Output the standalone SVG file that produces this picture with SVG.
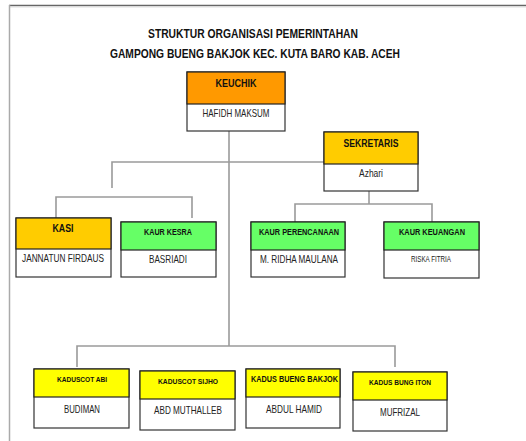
<svg xmlns="http://www.w3.org/2000/svg" width="526" height="441" viewBox="0 0 526 441">
<style>
.t{font-family:"Liberation Sans Narrow","Liberation Sans",Arial,sans-serif;font-weight:bold;text-anchor:middle;fill:#111}
.n{font-family:"Liberation Sans Narrow","Liberation Sans",Arial,sans-serif;text-anchor:middle;fill:#222}
.box{fill:#fff;stroke:#333;stroke-width:1.2}
.hd{stroke:#222;stroke-width:1.2}
.c{fill:none;stroke:#9a9a9a;stroke-width:1.6}
</style>
<rect width="526" height="441" fill="#fff"/>
<g id="frame">
<line x1="9" y1="5.5" x2="526" y2="5.5" stroke="#666" stroke-width="1.5"/>
<line x1="9" y1="7" x2="526" y2="7" stroke="#ddd" stroke-width="1"/>
<line x1="9.5" y1="5" x2="9.5" y2="441" stroke="#aaa" stroke-width="1.5"/>
</g>
<g id="title">
<text class="t" x="253" y="38" font-size="13" textLength="210" lengthAdjust="spacingAndGlyphs">STRUKTUR ORGANISASI PEMERINTAHAN</text>
<text class="t" x="255" y="58" font-size="13" textLength="290" lengthAdjust="spacingAndGlyphs">GAMPONG BUENG BAKJOK KEC. KUTA BARO KAB. ACEH</text>
</g>
<g id="connectors">
<polyline class="c" points="229,131 229,346"/>
<polyline class="c" points="77,367 77,346 395,346 395,367"/>
<polyline class="c" points="112,188 112,162 324,162"/>
<polyline class="c" points="56,218 56,197 192,197 192,218"/>
<polyline class="c" points="369,191 369,204"/>
<polyline class="c" points="295,222 295,204 432,204 432,225"/>
</g>
<g id="keuchik">
<rect class="box" x="187" y="72" width="98" height="59"/>
<rect class="hd" x="187" y="72" width="98" height="32" fill="#FF9900"/>
<text class="t" x="236" y="86.5" font-size="11" textLength="41" lengthAdjust="spacingAndGlyphs">KEUCHIK</text>
<text class="n" x="236" y="116.5" font-size="11" textLength="67" lengthAdjust="spacingAndGlyphs">HAFIDH MAKSUM</text>
</g>
<g id="sekretaris">
<rect class="box" x="324" y="132" width="94" height="59"/>
<rect class="hd" x="324" y="132" width="94" height="32" fill="#FFCC00"/>
<text class="t" x="371" y="146.5" font-size="11" textLength="55" lengthAdjust="spacingAndGlyphs">SEKRETARIS</text>
<text class="n" x="371" y="176.5" font-size="11" textLength="24" lengthAdjust="spacingAndGlyphs">Azhari</text>
</g>
<g id="kasi">
<rect class="box" x="16" y="218" width="95" height="59"/>
<rect class="hd" x="16" y="218" width="95" height="31" fill="#FFCC00"/>
<text class="t" x="63" y="231.5" font-size="11" textLength="21" lengthAdjust="spacingAndGlyphs">KASI</text>
<text class="n" x="63" y="261.5" font-size="11" textLength="82" lengthAdjust="spacingAndGlyphs">JANNATUN FIRDAUS</text>
</g>
<g id="kaur-kesra">
<rect class="box" x="121" y="222" width="95" height="55"/>
<rect class="hd" x="121" y="222" width="95" height="28" fill="#66FF66"/>
<text class="t" x="168" y="234.5" font-size="9" textLength="48" lengthAdjust="spacingAndGlyphs">KAUR KESRA</text>
<text class="n" x="168" y="262.5" font-size="11" textLength="38" lengthAdjust="spacingAndGlyphs">BASRIADI</text>
</g>
<g id="kaur-perencanaan">
<rect class="box" x="251" y="222" width="94" height="55"/>
<rect class="hd" x="251" y="222" width="94" height="28" fill="#66FF66"/>
<text class="t" x="299" y="234.5" font-size="9" textLength="80" lengthAdjust="spacingAndGlyphs">KAUR PERENCANAAN</text>
<text class="n" x="299" y="262.5" font-size="11" textLength="78" lengthAdjust="spacingAndGlyphs">M. RIDHA  MAULANA</text>
</g>
<g id="kaur-keuangan">
<rect class="box" x="384" y="222" width="95" height="56"/>
<rect class="hd" x="384" y="222" width="95" height="28" fill="#66FF66"/>
<text class="t" x="432" y="234.5" font-size="9" textLength="66" lengthAdjust="spacingAndGlyphs">KAUR KEUANGAN</text>
<text class="n" x="431" y="262" font-size="8.5" textLength="40" lengthAdjust="spacingAndGlyphs">RISKA FITRIA</text>
</g>
<g id="kaduscot-abi">
<rect class="box" x="34" y="369" width="95" height="59"/>
<rect class="hd" x="34" y="369" width="95" height="28" fill="#FFFF00"/>
<text class="t" x="82" y="382" font-size="8" textLength="50" lengthAdjust="spacingAndGlyphs">KADUSCOT ABI</text>
<text class="n" x="82" y="412.5" font-size="11" textLength="36" lengthAdjust="spacingAndGlyphs">BUDIMAN</text>
</g>
<g id="kaduscot-sijho">
<rect class="box" x="140" y="371" width="95" height="59"/>
<rect class="hd" x="140" y="371" width="95" height="28" fill="#FFFF00"/>
<text class="t" x="188" y="384" font-size="8" textLength="60" lengthAdjust="spacingAndGlyphs">KADUSCOT SIJHO</text>
<text class="n" x="188" y="413.5" font-size="11" textLength="68" lengthAdjust="spacingAndGlyphs">ABD MUTHALLEB</text>
</g>
<g id="kadus-bueng-bakjok">
<rect class="box" x="246" y="369" width="94" height="59"/>
<rect class="hd" x="246" y="369" width="94" height="28" fill="#FFFF00"/>
<text class="t" x="294.5" y="381.5" font-size="8.5" textLength="87" lengthAdjust="spacingAndGlyphs">KADUS BUENG BAKJOK</text>
<text class="n" x="294" y="412.5" font-size="11" textLength="56" lengthAdjust="spacingAndGlyphs">ABDUL  HAMID</text>
</g>
<g id="kadus-bung-iton">
<rect class="box" x="353" y="372" width="94" height="59"/>
<rect class="hd" x="353" y="372" width="94" height="28" fill="#FFFF00"/>
<text class="t" x="400" y="385" font-size="8" textLength="62" lengthAdjust="spacingAndGlyphs">KADUS BUNG ITON</text>
<text class="n" x="400" y="415.5" font-size="11" textLength="40" lengthAdjust="spacingAndGlyphs">MUFRIZAL</text>
</g>
</svg>
